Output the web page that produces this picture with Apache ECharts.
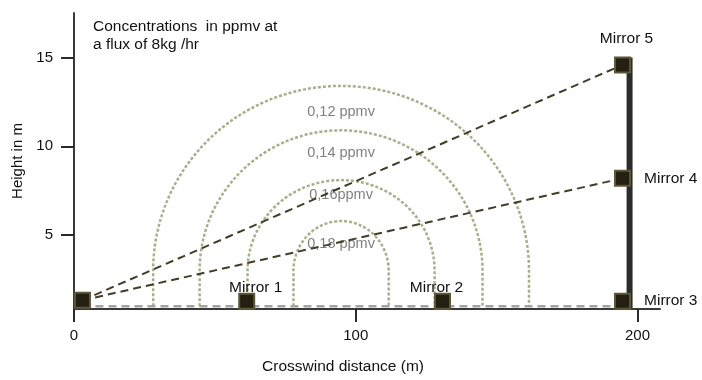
<!DOCTYPE html>
<html>
<head>
<meta charset="utf-8">
<script src="https://cdn.jsdelivr.net/npm/echarts@6/dist/echarts.min.js"></script>
<style>
  html, body { margin: 0; padding: 0; background: #fff; }
  #chart { width: 702px; height: 380px; }
</style>
</head>
<body>
<div id="chart"></div>
<script>
// Axis ticks
const xTicks = [0, 100, 200];
const yTicks = [5, 10, 15];

// Emission source (open-path transmitter) and retro-reflector mirrors, metres
const sourcePoint = [3.0, 1.34];
const mirrorNames = ['Mirror 1', 'Mirror 2', 'Mirror 3', 'Mirror 4', 'Mirror 5'];
const mirrorX = [61.3, 130.8, 194.7, 194.7, 194.7];
const mirrorY = [1.29, 1.29, 1.29, 8.2, 14.58];

// Beam paths drawn from the source to these mirrors
const beamTargets = ['Mirror 5', 'Mirror 4'];

// Ground-level beam and the mast carrying mirrors 3-5
const groundBeamY = 1.0;
const mastX = 197.2;
const mastBottom = 0.9;
const mastTop = 15.0;

// Concentration contours (arches): centre, half width, shoulder height, top height
const contourLabels = ['0,12 ppmv', '0,14 ppmv', '0,16ppmv', '0,18 ppmv'];
const contourCenter = 94.8;
const contourHalfWidth = [66.7, 50.2, 33.2, 16.9];
const contourShoulder = 3.0;
const contourTop = [13.4, 10.9, 8.1, 5.8];
const contourLabelY = [11.95, 9.62, 7.24, 4.53];

const FONT = 'Liberation Sans, Arial, Helvetica, sans-serif';

const mirrorLabelLayout = {
  'Mirror 1': { position: 'top', distance: -3, offset: [9, 0] },
  'Mirror 2': { position: 'top', distance: -3, offset: [-6, 0] },
  'Mirror 3': { position: 'right', distance: 13, offset: [0, 0] },
  'Mirror 4': { position: 'right', distance: 13, offset: [0, 0] },
  'Mirror 5': { position: 'top', distance: 10, offset: [4, 0] }
};

const squareStyle = { color: '#231f12', borderColor: '#5e5737', borderWidth: 2, opacity: 1 };

const mirrorData = mirrorNames.map((name, i) => {
  const lay = mirrorLabelLayout[name];
  return {
    name: name,
    value: [mirrorX[i], mirrorY[i]],
    label: { show: true, position: lay.position, distance: lay.distance, offset: lay.offset }
  };
});

const beamSeries = beamTargets.map(target => {
  const i = mirrorNames.indexOf(target);
  return {
    type: 'line',
    name: 'beam ' + target,
    data: [sourcePoint, [mirrorX[i], mirrorY[i]]],
    symbol: 'none',
    z: 3,
    lineStyle: { color: '#433d28', width: 2, type: [8, 5] },
    silent: true
  };
});

const contourData = contourHalfWidth.map((hw, i) => [contourCenter, hw, contourShoulder, contourTop[i], groundBeamY]);

const chart = echarts.init(document.getElementById('chart'), null, { renderer: 'canvas' });

chart.setOption({
  animation: false,
  backgroundColor: '#ffffff',
  textStyle: { fontFamily: FONT },
  title: {
    text: 'Concentrations  in ppmv at\na flux of 8kg /hr',
    left: 93,
    top: 17,
    padding: 0,
    textStyle: { fontFamily: FONT, fontSize: 15.5, fontWeight: 'normal', color: '#111111', lineHeight: 18.5 }
  },
  grid: { left: 74, top: 13, width: 586, height: 300, containLabel: false },
  xAxis: {
    type: 'value',
    min: 0,
    max: 208,
    name: 'Crosswind distance (m)',
    nameLocation: 'middle',
    nameGap: 50,
    nameTextStyle: { fontFamily: FONT, fontSize: 15.5, color: '#111111', padding: [0, 48, 0, 0] },
    axisLine: { onZero: false, lineStyle: { color: '#3a3a3a', width: 2 } },
    axisTick: { show: true, customValues: xTicks, length: 13, lineStyle: { color: '#2a2a2a', width: 2 } },
    axisLabel: { customValues: xTicks, fontSize: 15, color: '#111111', margin: 19, fontFamily: FONT },
    splitLine: { show: false }
  },
  yAxis: {
    type: 'value',
    min: 0.85,
    max: 17.5,
    name: 'Height in m',
    nameLocation: 'middle',
    nameGap: 43,
    nameTextStyle: { fontFamily: FONT, fontSize: 15, color: '#111111' },
    axisLine: { onZero: false, lineStyle: { color: '#3a3a3a', width: 2 } },
    axisTick: { show: true, customValues: yTicks, length: 13, lineStyle: { color: '#2a2a2a', width: 2 } },
    axisLabel: { customValues: yTicks, fontSize: 15, color: '#111111', margin: 21, fontFamily: FONT },
    splitLine: { show: false }
  },
  series: [
    {
      // concentration arches: vertical legs up to the shoulder, rounded top
      type: 'custom',
      name: 'contours',
      data: contourData,
      encode: { x: 0, y: 3 },
      z: 1,
      silent: true,
      renderItem: function (params, api) {
        const c = api.value(0), hw = api.value(1), sh = api.value(2), top = api.value(3), base = api.value(4);
        const pL0 = api.coord([c - hw, base]);
        const pL1 = api.coord([c - hw, sh]);
        const pR1 = api.coord([c + hw, sh]);
        const pR0 = api.coord([c + hw, base]);
        const pT = api.coord([c, top]);
        const rx = (pR1[0] - pL1[0]) / 2;
        const ry = pL1[1] - pT[1];
        const d = 'M' + pL0[0] + ' ' + pL0[1] +
                  ' L' + pL1[0] + ' ' + pL1[1] +
                  ' A' + rx + ' ' + ry + ' 0 0 1 ' + pR1[0] + ' ' + pR1[1] +
                  ' L' + pR0[0] + ' ' + pR0[1];
        return {
          type: 'path',
          shape: { pathData: d },
          style: { fill: null, stroke: '#a9ae8c', lineWidth: 2.5, lineDash: [3, 2] }
        };
      }
    },
    {
      type: 'scatter',
      name: 'contour labels',
      data: contourLabels.map((t, i) => ({ name: t, value: [contourCenter, contourLabelY[i]] })),
      symbolSize: 0,
      z: 2,
      silent: true,
      label: {
        show: true,
        position: 'inside',
        formatter: '{b}',
        fontFamily: FONT,
        fontSize: 14.5,
        color: '#5f5f5f'
      }
    },
    {
      type: 'line',
      name: 'ground beam',
      data: [[sourcePoint[0], groundBeamY], [mirrorX[2], groundBeamY]],
      symbol: 'none',
      z: 2,
      silent: true,
      lineStyle: { color: '#a3a3a3', width: 2.5, type: [8, 5] }
    },
    ...beamSeries,
    {
      type: 'line',
      name: 'mast',
      data: [[mastX, mastBottom], [mastX, mastTop]],
      symbol: 'none',
      z: 4,
      silent: true,
      lineStyle: { color: '#2b2b2b', width: 6 }
    },
    {
      type: 'scatter',
      name: 'source',
      data: [sourcePoint],
      symbol: 'rect',
      symbolSize: 15,
      z: 5,
      itemStyle: squareStyle
    },
    {
      type: 'scatter',
      name: 'mirrors',
      data: mirrorData,
      symbol: 'rect',
      symbolSize: 15,
      z: 5,
      itemStyle: squareStyle,
      label: {
        show: true,
        formatter: '{b}',
        fontFamily: FONT,
        fontSize: 15.5,
        color: '#111111'
      }
    }
  ]
});
</script>
</body>
</html>
